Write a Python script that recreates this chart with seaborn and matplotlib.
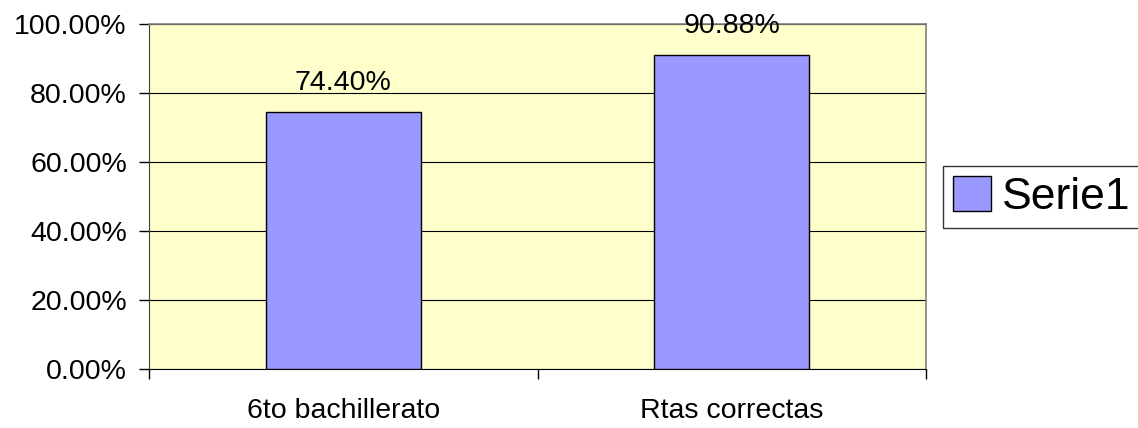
import numpy as np
import pandas as pd
import matplotlib
matplotlib.use("Agg")
import matplotlib.pyplot as plt
import matplotlib.patches as mpatches
from matplotlib.ticker import PercentFormatter
import seaborn as sns

categorias = ["6to bachillerato", "Rtas correctas"]
valores = [74.40, 90.88]
serie = "Serie1"
yticks = [0, 20, 40, 60, 80, 100]

df = pd.DataFrame({"cat": categorias, "val": valores})

sns.set_style("white")
plt.rcParams["font.family"] = ["Liberation Sans", "DejaVu Sans"]
plt.rcParams["text.color"] = "black"
plt.rcParams["xtick.color"] = "black"
plt.rcParams["ytick.color"] = "black"
plt.rcParams["axes.labelcolor"] = "black"

fig = plt.figure(figsize=(11.38, 4.28), dpi=100)
ax = fig.add_axes([149 / 1138, 1 - 369 / 428, (926 - 149) / 1138, (369 - 24) / 428])

sns.barplot(data=df, x="cat", y="val", color="#9999FF", saturation=1,
            width=0.4, edgecolor="black", linewidth=1, ax=ax, zorder=3)

ax.set_facecolor("#FFFFCC")
ax.set_xlim(-0.5, 1.5)
ax.set_ylim(0, 100)
ax.set_yticks(yticks)
ax.yaxis.set_major_formatter(PercentFormatter(decimals=2))
ax.grid(axis="y", color="black", linewidth=0.8, zorder=1)
ax.set_axisbelow(True)

# ticks en los bordes de categoria, etiquetas en el centro
ax.set_xticks([-0.5, 0.5, 1.5])
ax.set_xticklabels(["", "", ""])
ax.set_xticks([0, 1], minor=True)
ax.set_xticklabels(categorias, minor=True)
ax.tick_params(axis="x", which="major", direction="out", length=7, width=1, color="black", bottom=True)
ax.tick_params(axis="x", which="minor", length=0, pad=21, labelsize=20.5, labelcolor="black")
ax.tick_params(axis="y", direction="out", length=7, width=1, color="black", left=True,
               labelsize=20.5, pad=9, labelcolor="black")
ax.set_xlabel("")
ax.set_ylabel("")

for s in ["top", "right"]:
    ax.spines[s].set_color("#808080")
    ax.spines[s].set_linewidth(1.2)
ax.spines["left"].set_color("#404040")
ax.spines["bottom"].set_color("black")

labels = ["%.2f%%" % v for v in valores]
ax.bar_label(ax.containers[0], labels=labels, padding=12, fontsize=20.5, color="black", clip_on=False)

patch = mpatches.Patch(facecolor="#9999FF", edgecolor="black", linewidth=1, label=serie)
leg = fig.legend(handles=[patch], loc="center left", bbox_to_anchor=(943 / 1138, 1 - 197 / 428),
                 fontsize=32, frameon=True, fancybox=False, edgecolor="black",
                 handlelength=0.85, handleheight=0.85, handletextpad=0.25, borderpad=0.22,
                 borderaxespad=0, labelcolor="black")
leg.get_frame().set_linewidth(1)

fig.savefig("out.png", dpi=100)
